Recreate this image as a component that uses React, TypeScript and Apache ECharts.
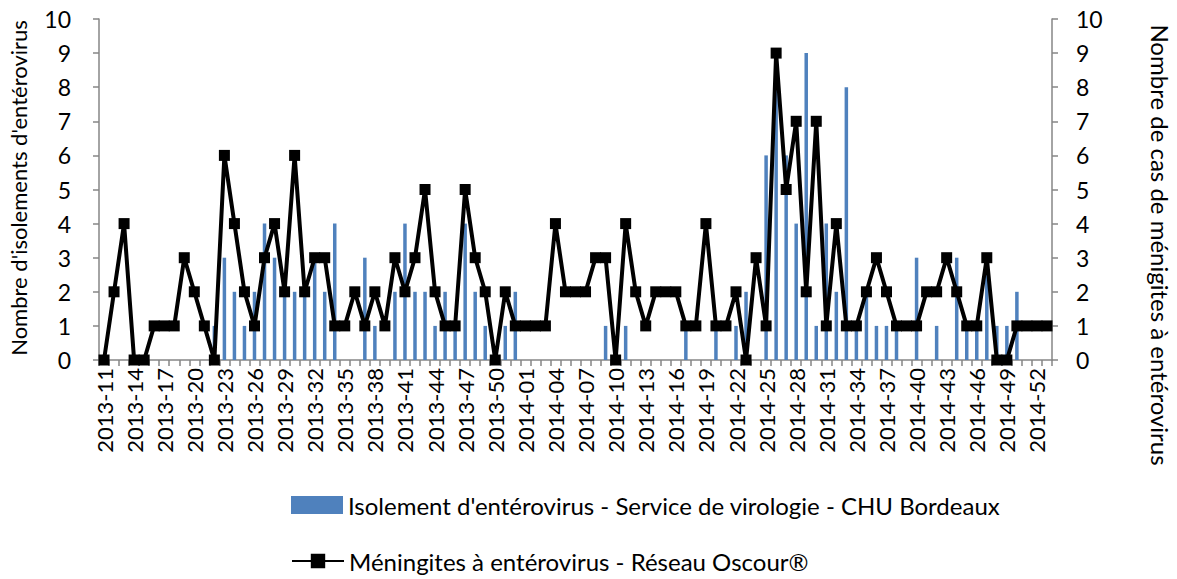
import React, { useEffect, useRef } from "react";
import * as echarts from "echarts";

const weeks2013 = [
  "2013-11", "2013-12", "2013-13", "2013-14", "2013-15", "2013-16", "2013-17", "2013-18", "2013-19", "2013-20",
  "2013-21", "2013-22", "2013-23", "2013-24", "2013-25", "2013-26", "2013-27", "2013-28", "2013-29", "2013-30",
  "2013-31", "2013-32", "2013-33", "2013-34", "2013-35", "2013-36", "2013-37", "2013-38", "2013-39", "2013-40",
  "2013-41", "2013-42", "2013-43", "2013-44", "2013-45", "2013-46", "2013-47", "2013-48", "2013-49", "2013-50",
  "2013-51", "2013-52",
];
const weeks2014 = [
  "2014-01", "2014-02", "2014-03", "2014-04", "2014-05", "2014-06", "2014-07", "2014-08", "2014-09", "2014-10",
  "2014-11", "2014-12", "2014-13", "2014-14", "2014-15", "2014-16", "2014-17", "2014-18", "2014-19", "2014-20",
  "2014-21", "2014-22", "2014-23", "2014-24", "2014-25", "2014-26", "2014-27", "2014-28", "2014-29", "2014-30",
  "2014-31", "2014-32", "2014-33", "2014-34", "2014-35", "2014-36", "2014-37", "2014-38", "2014-39", "2014-40",
  "2014-41", "2014-42", "2014-43", "2014-44", "2014-45", "2014-46", "2014-47", "2014-48", "2014-49", "2014-50",
  "2014-51", "2014-52", "2014-53",
];

// Isolement d'entérovirus - Service de virologie - CHU Bordeaux
const isolements2013 = [
  0, 0, 0, 0, 0, 0, 0, 0, 0, 0,
  0, 1, 3, 2, 1, 2, 4, 3, 2, 2,
  2, 3, 2, 4, 0, 0, 3, 1, 0, 2,
  4, 2, 2, 1, 2, 1, 4, 2, 1, 0,
  1, 2,
];
const isolements2014 = [
  0, 0, 0, 0, 0, 0, 0, 0, 1, 0,
  1, 0, 0, 0, 0, 0, 1, 0, 0, 1,
  0, 1, 2, 0, 6, 8, 6, 4, 9, 1,
  4, 2, 8, 1, 2, 1, 1, 1, 0, 3,
  0, 1, 0, 3, 1, 1, 3, 1, 1, 2,
  0, 0, 0,
];

// Méningites à entérovirus - Réseau Oscour®
const meningites2013 = [
  0, 2, 4, 0, 0, 1, 1, 1, 3, 2,
  1, 0, 6, 4, 2, 1, 3, 4, 2, 6,
  2, 3, 3, 1, 1, 2, 1, 2, 1, 3,
  2, 3, 5, 2, 1, 1, 5, 3, 2, 0,
  2, 1,
];
const meningites2014 = [
  1, 1, 1, 4, 2, 2, 2, 3, 3, 0,
  4, 2, 1, 2, 2, 2, 1, 1, 4, 1,
  1, 2, 0, 3, 1, 9, 5, 7, 2, 7,
  1, 4, 1, 1, 2, 3, 2, 1, 1, 1,
  2, 2, 3, 2, 1, 1, 3, 0, 0, 1,
  1, 1, 1,
];

const weeks = [...weeks2013, ...weeks2014];
const isolements = [...isolements2013, ...isolements2014];
const meningites = [...meningites2013, ...meningites2014];

const BAR_NAME = "Isolement d'entérovirus - Service de virologie - CHU Bordeaux";
const LINE_NAME = "Méningites à entérovirus - Réseau Oscour®";

const FONT = "Lato";
const AXIS_COLOR = "#868686";

export default function App() {
  const ref = useRef<HTMLDivElement>(null);

  useEffect(() => {
    document.body.style.margin = "0";
    const chart = echarts.init(ref.current!, null, { renderer: "svg" });
    const yAxisCommon = {
      type: "value",
      min: 0,
      max: 10,
      interval: 1,
      splitLine: { show: false },
      axisLine: { show: true, lineStyle: { color: AXIS_COLOR, width: 1.5 } },
      axisTick: { show: true, length: 6, lineStyle: { color: AXIS_COLOR, width: 1.5 } },
    };
    const legendCommon = {
      orient: "horizontal",
      left: 291,
      padding: 0,
      itemWidth: 52,
      itemHeight: 18,
      itemGap: 10,
      selectedMode: false,
      textStyle: { fontFamily: FONT, fontSize: 24, color: "#000" },
    };
    chart.setOption({
      animation: false,
      backgroundColor: "#ffffff",
      grid: { left: 99, right: 125, top: 19, bottom: 219, containLabel: false },
      legend: [
        { ...legendCommon, top: 493, data: [{ name: BAR_NAME, icon: "rect" }] },
        { ...legendCommon, top: 549, data: [{ name: LINE_NAME }] },
      ],
      xAxis: {
        type: "category",
        data: weeks,
        boundaryGap: true,
        axisLine: { show: true, lineStyle: { color: AXIS_COLOR, width: 1.5 } },
        axisTick: { show: true, interval: 0, length: 6, lineStyle: { color: AXIS_COLOR, width: 1.5 } },
        axisLabel: {
          interval: 2,
          rotate: 90,
          margin: 8,
          fontFamily: FONT,
          fontSize: 22,
          color: "#000",
        },
      },
      yAxis: [
        {
          ...yAxisCommon,
          position: "left",
          axisLabel: { margin: 28, fontFamily: FONT, fontSize: 23, color: "#000" },
        },
        {
          ...yAxisCommon,
          position: "right",
          axisLabel: { margin: 24, fontFamily: FONT, fontSize: 23, color: "#000" },
        },
      ],
      graphic: [
        {
          type: "text",
          x: 18,
          y: 188,
          rotation: Math.PI / 2,
          style: {
            text: "Nombre d'isolements d'entérovirus",
            fontFamily: FONT,
            fontSize: 22,
            fill: "#000",
            textAlign: "center",
            textVerticalAlign: "middle",
          },
        },
        {
          type: "text",
          x: 1160,
          y: 245,
          rotation: -Math.PI / 2,
          style: {
            text: "Nombre de cas de ménigites à entérovirus",
            fontFamily: FONT,
            fontSize: 24,
            fill: "#000",
            textAlign: "center",
            textVerticalAlign: "middle",
          },
        },
      ],
      series: [
        {
          name: BAR_NAME,
          type: "bar",
          yAxisIndex: 0,
          data: isolements,
          barWidth: 3.5,
          itemStyle: { color: "#4F81BD" },
          z: 2,
        },
        {
          name: LINE_NAME,
          type: "line",
          yAxisIndex: 1,
          data: meningites,
          symbol: "rect",
          symbolSize: 11,
          showAllSymbol: true,
          color: "#000",
          itemStyle: { color: "#000" },
          lineStyle: { color: "#000", width: 4 },
          z: 3,
        },
      ],
    });
    return () => chart.dispose();
  }, []);

  return <div ref={ref} style={{ width: 1177, height: 579 }} />;
}
